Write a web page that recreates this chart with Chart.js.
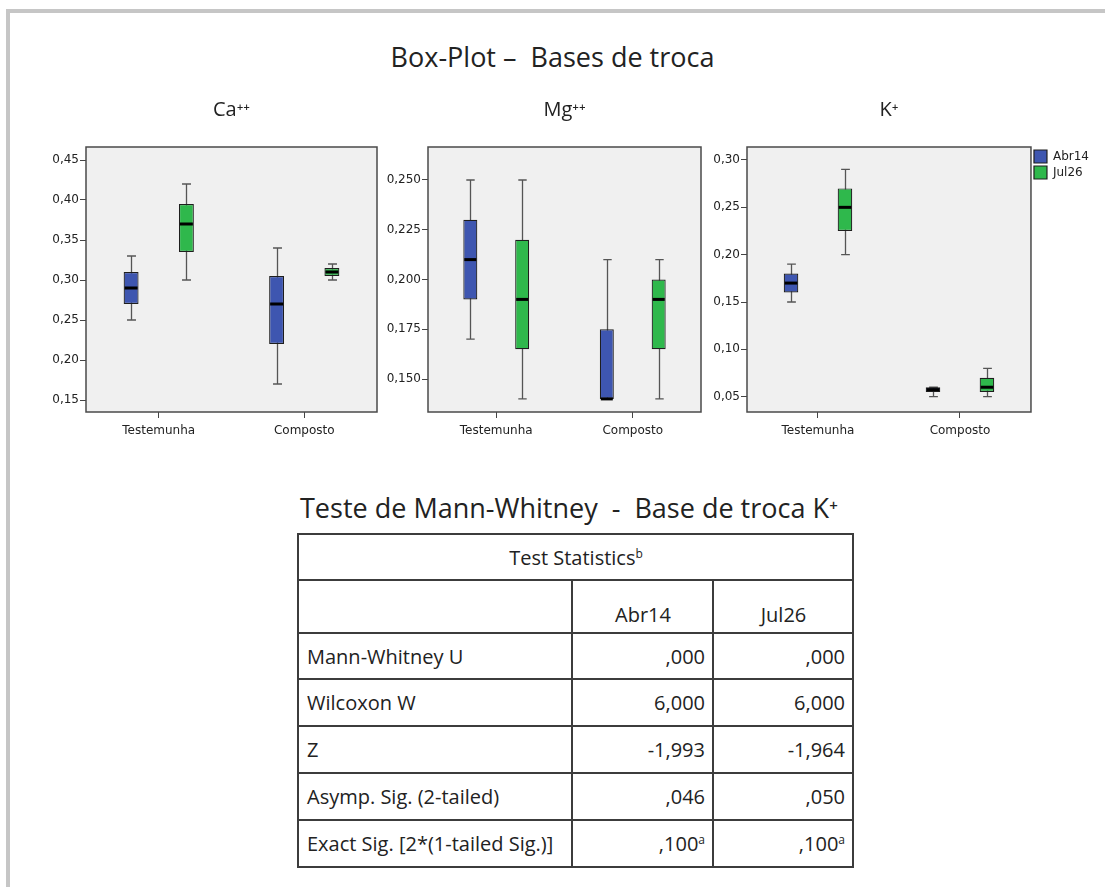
<!DOCTYPE html>
<html>
<head>
<meta charset="utf-8">
<script src="https://cdn.jsdelivr.net/npm/chart.js@4.4.0/dist/chart.umd.min.js"></script>
<style>
  body { margin: 0; background: #fff; width: 1105px; height: 887px; overflow: hidden; position: relative; font-family: "Open Sans", sans-serif; color: #222; }
  #frame { position: absolute; left: 6px; top: 9px; width: 1200px; height: 1000px; border-top: 4px solid #c6c6c6; border-left: 4px solid #c6c6c6; }
  #mainTitle { position: absolute; left: 0; top: 38px; width: 1105px; text-align: center; font-size: 27px; line-height: 38px; white-space: pre; }
  canvas { position: absolute; top: 90px; }
  #tableTitle { position: absolute; left: 300px; top: 489px; font-size: 27px; line-height: 38px; white-space: pre; }
  #stats { position: absolute; left: 297px; top: 533px; border-collapse: collapse; table-layout: fixed; width: 555px; font-size: 20px; }
  #stats td { border: 2px solid #3c3c3c; padding: 0 7px 0 8px; white-space: nowrap; }
  #stats td.num { text-align: right; }
  #stats td.head { text-align: center; }
  #stats tr.colHead td { vertical-align: bottom; padding-bottom: 4px; }
  sup { font-size: 12px; vertical-align: 7px; line-height: 0; }
</style>
</head>
<body>
<div id="frame"></div>
<div id="mainTitle">Box-Plot –  Bases de troca</div>
<canvas id="caChart" width="345" height="353" style="left:36px"></canvas>
<canvas id="mgChart" width="327" height="353" style="left:378px"></canvas>
<canvas id="kChart" width="400" height="353" style="left:700px"></canvas>
<div id="tableTitle">Teste de Mann-Whitney  -  Base de troca K⁺</div>
<table id="stats"></table>

<script>
// categorias e séries
const categories = ['Testemunha', 'Composto'];
const seriesNames = ['Abr14', 'Jul26'];
const seriesColors = ['#3e56b0', '#2fb84c'];

// [mín, Q1, mediana, Q3, máx] para Testemunha e Composto
const caAbr14 = [[0.25, 0.27, 0.29, 0.31, 0.33], [0.17, 0.22, 0.27, 0.305, 0.34]];
const caJul26 = [[0.30, 0.335, 0.37, 0.395, 0.42], [0.30, 0.305, 0.31, 0.315, 0.32]];
const mgAbr14 = [[0.17, 0.19, 0.21, 0.23, 0.25], [0.14, 0.14, 0.14, 0.175, 0.21]];
const mgJul26 = [[0.14, 0.165, 0.19, 0.22, 0.25], [0.14, 0.165, 0.19, 0.20, 0.21]];
const kAbr14 = [[0.15, 0.16, 0.17, 0.18, 0.19], [0.05, 0.055, 0.0575, 0.06, 0.06]];
const kJul26 = [[0.20, 0.225, 0.25, 0.27, 0.29], [0.05, 0.055, 0.06, 0.07, 0.08]];

// marcas do eixo y
const caTicks = [0.15, 0.20, 0.25, 0.30, 0.35, 0.40, 0.45];
const mgTicks = [0.150, 0.175, 0.200, 0.225, 0.250];
const kTicks = [0.05, 0.10, 0.15, 0.20, 0.25, 0.30];

// tabela Mann-Whitney
const tableHead = 'Test Statistics';
const tableCols = ['Abr14', 'Jul26'];
const tableRows = ['Mann-Whitney U', 'Wilcoxon W', 'Z', 'Asymp. Sig. (2-tailed)', 'Exact Sig. [2*(1-tailed Sig.)]'];
const abr14Stats = [',000', '6,000', '-1,993', ',046', ',100'];
const jul26Stats = [',000', '6,000', '-1,964', ',050', ',100'];
const statNotes = ['', '', '', '', 'a'];

const axisFont = { family: 'DejaVu Sans', size: 12 };

// caixa, bigodes e mediana a partir das barras flutuantes
const boxPlot = {
  id: 'boxPlot',
  beforeDraw(chart) {
    const { ctx, chartArea: a } = chart;
    ctx.save();
    ctx.fillStyle = '#f0f0f0';
    ctx.fillRect(a.left, a.top, a.right - a.left, a.bottom - a.top);
    ctx.restore();
  },
  beforeDatasetsDraw(chart) {
    const { ctx, scales: { y } } = chart;
    ctx.save();
    ctx.strokeStyle = '#555';
    ctx.lineWidth = 1.3;
    chart.data.datasets.forEach((ds, i) => {
      chart.getDatasetMeta(i).data.forEach((bar, j) => {
        const s = ds.stats[j];
        const x = Math.round(bar.x) + 0.5;
        const half = bar.width * 0.3;
        const y0 = y.getPixelForValue(s[0]);
        const y4 = y.getPixelForValue(s[4]);
        ctx.beginPath();
        ctx.moveTo(x, y0); ctx.lineTo(x, y4);
        ctx.moveTo(x - half, y0); ctx.lineTo(x + half, y0);
        ctx.moveTo(x - half, y4); ctx.lineTo(x + half, y4);
        ctx.stroke();
      });
    });
    ctx.restore();
  },
  afterDatasetsDraw(chart) {
    const { ctx, scales: { y } } = chart;
    ctx.save();
    ctx.strokeStyle = '#000';
    ctx.lineWidth = 3;
    chart.data.datasets.forEach((ds, i) => {
      chart.getDatasetMeta(i).data.forEach((bar, j) => {
        const ym = y.getPixelForValue(ds.stats[j][2]);
        ctx.beginPath();
        ctx.moveTo(bar.x - bar.width / 2 + 1, ym);
        ctx.lineTo(bar.x + bar.width / 2 - 1, ym);
        ctx.stroke();
      });
    });
    ctx.restore();
  },
  afterDraw(chart) {
    const { ctx, chartArea: a } = chart;
    ctx.save();
    ctx.strokeStyle = '#4a4a4a';
    ctx.lineWidth = 1.5;
    ctx.strokeRect(a.left, a.top, a.right - a.left, a.bottom - a.top);
    ctx.restore();
  }
};

let makeBox = (id, title, abr, jul, ticks, dec, range, yWidth, padRight, showLegend) => {
  const ctx = document.getElementById(id);
  const dataset = {
    labels: categories,
    datasets: [abr, jul].map((stats, k) => ({
      label: seriesNames[k],
      data: stats.map(s => [s[1], s[3]]),
      stats: stats,
      backgroundColor: seriesColors[k],
      borderColor: '#1e1e1e',
      borderWidth: 1.2,
      borderSkipped: false,
      categoryPercentage: 0.76,
      barPercentage: 0.27
    }))
  };
  const config = {
    type: 'bar',
    data: dataset,
    options: {
      responsive: false,
      animation: false,
      layout: { padding: { top: 0, right: padRight, bottom: 1, left: 0 } },
      plugins: {
        tooltip: { enabled: false },
        title: {
          display: true,
          text: title,
          fullSize: false,
          color: '#222',
          font: { family: 'Open Sans', size: 20, weight: 'normal' },
          padding: { top: 8, bottom: 25 }
        },
        legend: {
          display: showLegend,
          position: 'right',
          align: 'start',
          fullSize: false,
          labels: {
            boxWidth: 13,
            boxHeight: 13,
            padding: 3,
            color: '#222',
            font: axisFont
          }
        }
      },
      scales: {
        x: {
          grid: { drawOnChartArea: false, offset: false, tickLength: 6, color: '#444' },
          border: { display: false },
          ticks: { padding: 6, color: '#222', font: axisFont },
          afterFit: s => { s.height = 30; }
        },
        y: {
          min: range[0],
          max: range[1],
          afterBuildTicks: s => { s.ticks = ticks.map(v => ({ value: v })); },
          afterFit: s => { s.width = yWidth; },
          grid: { drawOnChartArea: false, tickLength: 6, color: '#444' },
          border: { display: false },
          ticks: { padding: 1, color: '#222', font: axisFont, callback: v => v.toFixed(dec).replace('.', ',') }
        }
      }
    },
    plugins: [boxPlot]
  };
  return new Chart(ctx, config);
};

makeBox('caChart', 'Ca⁺⁺', caAbr14, caJul26, caTicks, 2, [0.135, 0.46625], 50, 4, false);
makeBox('mgChart', 'Mg⁺⁺', mgAbr14, mgJul26, mgTicks, 3, [0.13342, 0.26658], 50, 4, false);
makeBox('kChart', 'K⁺', kAbr14, kJul26, kTicks, 2, [0.03384, 0.31373], 47, 1, true);

// tabela
let loadTable = () => {
  const t = document.getElementById('stats');
  let html = '<colgroup><col style="width:274px"><col style="width:141px"><col style="width:140px"></colgroup>';
  html += '<tr style="height:46px"><td class="head" colspan="3">' + tableHead + '<sup>b</sup></td></tr>';
  html += '<tr class="colHead" style="height:53px"><td></td><td class="head">' + tableCols[0] + '</td><td class="head">' + tableCols[1] + '</td></tr>';
  tableRows.forEach((r, i) => {
    const n = statNotes[i] ? '<sup>' + statNotes[i] + '</sup>' : '';
    html += '<tr style="height:' + (i === 0 ? 46 : 47) + 'px"><td>' + r + '</td><td class="num">' + abr14Stats[i] + n + '</td><td class="num">' + jul26Stats[i] + n + '</td></tr>';
  });
  t.innerHTML = html;
};
loadTable();
</script>
</body>
</html>
